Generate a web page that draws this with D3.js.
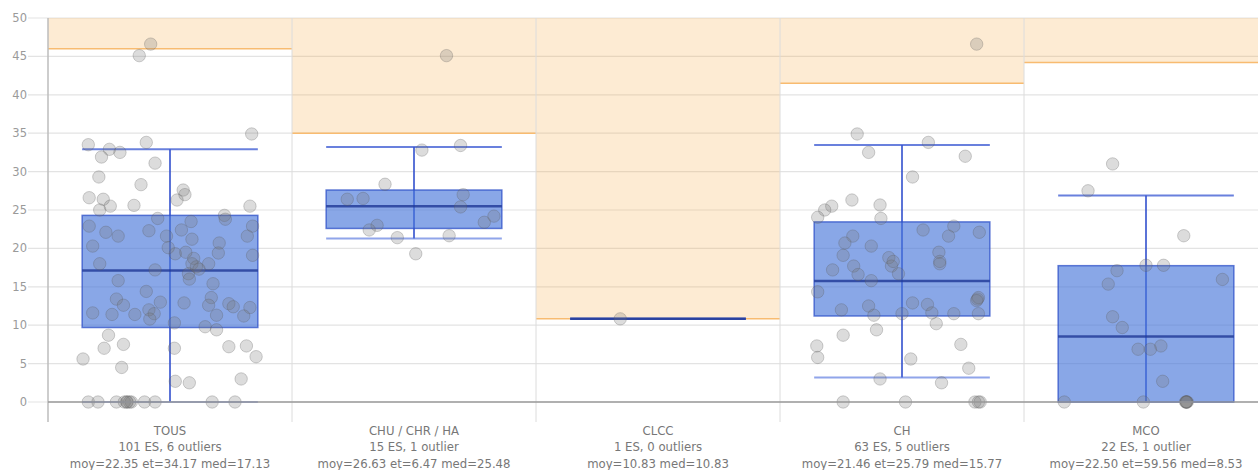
<!DOCTYPE html>
<html>
<head>
<meta charset="utf-8">
<script src="https://cdn.jsdelivr.net/npm/d3@7"></script>
<style>
  html, body { margin: 0; padding: 0; background: #fff; overflow: hidden; }
  svg { display: block; font-family: "DejaVu Sans", Verdana, sans-serif; }
</style>
</head>
<body>
<svg id="chart" width="1258" height="470"></svg>
<script>
// ---------- DATA ----------
const categories = ["TOUS", "CHU / CHR / HA", "CLCC", "CH", "MCO"];
const subtitle1 = ["101 ES, 6 outliers", "15 ES, 1 outlier", "1 ES, 0 outliers", "63 ES, 5 outliers", "22 ES, 1 outlier"];
const subtitle2 = ["moy=22.35 et=34.17 med=17.13", "moy=26.63 et=6.47 med=25.48", "moy=10.83 med=10.83", "moy=21.46 et=25.79 med=15.77", "moy=22.50 et=59.56 med=8.53"];
const q1 = [9.7, 22.6, 10.83, 11.2, 0];
const median = [17.13, 25.48, 10.83, 15.77, 8.53];
const q3 = [24.3, 27.6, 10.83, 23.45, 17.75];
const whiskerLow = [0, 21.3, 10.83, 3.2, 0];
const whiskerHigh = [32.9, 33.2, 10.83, 33.45, 26.9];
const outlierFence = [46.0, 35.0, 10.83, 41.5, 44.2];
const yTicks = [0, 5, 10, 15, 20, 25, 30, 35, 40, 45, 50];

// points: [jitter (-1..1 of half box width), value]
const tousPoints = [
  [-0.35,45.1],[-0.22,46.6],[0.93,34.9],
  [-0.93,33.5],[-0.69,32.9],[-0.78,31.9],[-0.57,32.5],[-0.27,33.8],[-0.17,31.1],[-0.81,29.3],[-0.33,28.3],
  [-0.92,26.6],[-0.76,26.4],[-0.80,25.0],[-0.68,25.5],[-0.41,25.6],[0.15,27.6],[0.17,27.0],[0.08,26.3],
  [0.91,25.5],[0.62,24.3],[0.63,23.8],[-0.14,23.9],[0.24,23.5],[0.94,22.9],[-0.92,22.9],[-0.73,22.1],
  [-0.59,21.6],[-0.24,22.3],[-0.04,21.6],[0.13,22.4],[0.25,21.2],[0.88,21.6],[-0.88,20.3],[0.56,20.7],
  [0.55,19.4],[0.94,19.1],[0.06,19.3],[0.27,18.7],[-0.80,18.0],
  [-0.17,17.2],[0.25,18.0],[0.21,16.7],[0.22,16.0],[0.44,18.0],[-0.59,15.8],[0.49,15.4],[-0.27,14.4],
  [-0.61,13.4],[-0.53,12.6],[-0.11,13.0],[0.16,12.9],[0.47,13.6],[0.44,12.6],[0.67,12.8],[0.72,12.4],
  [0.91,12.3],[-0.88,11.6],[-0.66,11.4],[-0.40,11.4],[-0.24,12.0],[-0.18,11.5],[-0.23,10.8],[0.53,11.3],
  [0.84,11.2],[0.05,10.3],[0.40,9.8],[0.53,9.4],[-0.70,8.7],[-0.53,7.5],[-0.75,7.0],[-0.99,5.6],
  [-0.55,4.5],[0.05,7.0],[0.67,7.2],[0.87,7.3],[0.98,5.9],[0.06,2.7],[0.22,2.5],[0.81,3.0],
  [0.30,17.6],[0.33,17.3],[-0.02,20.1],[0.18,19.5],
  [-0.93,0],[-0.82,0],[-0.61,0],[-0.49,0],[-0.49,0],[-0.44,0],[-0.29,0],[-0.17,0],[0.48,0],[0.74,0],[-0.52,0],[-0.46,0]
];
const chuPoints = [
  [0.37,45.1],[0.09,32.8],[0.53,33.4],[-0.33,28.35],[-0.76,26.4],[-0.58,26.5],[0.56,27.0],[0.53,25.4],
  [0.91,24.2],[0.80,23.4],[-0.42,23.0],[-0.51,22.4],[-0.19,21.4],[0.40,21.65],[0.02,19.3]
];
const clccPoints = [[-0.43,10.83]];
const chPoints = [
  [0.85,46.6],
  [-0.51,34.9],[-0.38,32.5],[0.30,33.8],[0.72,32.0],[0.12,29.3],[-0.57,26.3],[-0.80,25.5],[-0.88,25.0],
  [-0.96,24.05],[-0.25,25.65],[-0.24,23.9],[0.24,22.4],[0.59,22.9],[0.53,21.6],[0.88,22.1],[-0.56,21.6],
  [-0.65,20.7],[-0.35,20.3],[-0.67,19.1],[-0.15,18.8],[0.42,19.5],[0.43,18.3],
  [-0.79,17.2],[-0.55,17.7],[-0.12,17.7],[-0.04,16.7],[0.43,18.0],[-0.35,15.8],[-0.96,14.35],[-0.69,12.0],
  [-0.38,12.5],[-0.32,11.3],[0.0,11.5],[0.12,12.9],[0.29,12.7],[0.34,11.6],[0.59,11.5],[0.86,13.4],
  [0.87,13.6],[0.85,13.2],[0.87,11.5],[-0.29,9.4],[0.39,10.2],[-0.67,8.7],[-0.97,7.3],[-0.96,5.8],
  [0.67,7.5],[0.10,5.6],[0.76,4.4],[-0.25,3.0],[0.45,2.5],
  [-0.67,0],[0.04,0],[0.83,0],[0.89,0],[0.87,0],[-0.10,18.3],[-0.50,16.6]
];
const mcoPoints = [
  [-0.38,31.0],[-0.66,27.5],[0.43,21.65],[-0.33,17.1],[0,17.8],[0.2,17.8],[-0.43,15.35],[0.87,15.96],
  [-0.38,11.1],[-0.27,9.7],[-0.09,6.87],[0.05,6.87],[0.17,7.3],[0.19,2.7],
  [-0.93,0],[-0.03,0],[0.46,0],[0.46,0],[0.47,0],[0.45,0],[0.46,0]
];
const pointsByCategory = [tousPoints, chuPoints, clccPoints, chPoints, mcoPoints];

// ---------- LAYOUT ----------
const W = 1258, H = 470;
const plotLeft = 48, plotRight = 1268, plotTop = 18, plotBottom = 402;
const svg = d3.select("#chart");

const x = d3.scaleBand().domain(categories).range([plotLeft, plotRight]).paddingInner(0).paddingOuter(0);
const y = d3.scaleLinear().domain([0, 50]).range([plotBottom, plotTop]);
const boxW = x.bandwidth() * 0.72;

const rows = categories.map((c, i) => ({
  cat: c, q1: q1[i], med: median[i], q3: q3[i], lo: whiskerLow[i], hi: whiskerHigh[i],
  fence: outlierFence[i], s1: subtitle1[i], s2: subtitle2[i], pts: pointsByCategory[i]
}));

// horizontal gridlines
svg.append("g").selectAll("line").data(yTicks).join("line")
  .attr("x1", 28).attr("x2", W)
  .attr("y1", d => y(d)).attr("y2", d => y(d))
  .attr("stroke", "#e3e3e3").attr("stroke-width", 1.2);

// outlier zones
const zones = svg.append("g");
zones.selectAll("rect").data(rows).join("rect")
  .attr("x", d => x(d.cat)).attr("width", x.bandwidth())
  .attr("y", y(50)).attr("height", d => y(d.fence) - y(50))
  .attr("fill", "rgba(247,170,70,0.24)");
zones.selectAll("line").data(rows).join("line")
  .attr("x1", d => x(d.cat)).attr("x2", d => x(d.cat) + x.bandwidth())
  .attr("y1", d => y(d.fence)).attr("y2", d => y(d.fence))
  .attr("stroke", "#f8bb70").attr("stroke-width", 1.5);

// vertical band separators
const seps = categories.map(c => x(c)).concat([plotRight]);
svg.append("g").selectAll("line").data(seps.slice(1)).join("line")
  .attr("x1", d => d).attr("x2", d => d)
  .attr("y1", plotTop).attr("y2", 422)
  .attr("stroke", "#dcdcdc").attr("stroke-width", 1);

// left axis line
svg.append("line").attr("x1", plotLeft).attr("x2", plotLeft).attr("y1", plotTop).attr("y2", 422)
  .attr("stroke", "#bdbdbd").attr("stroke-width", 1.5);

// boxes
const boxes = svg.append("g").selectAll("g").data(rows).join("g")
  .attr("transform", d => `translate(${x(d.cat) + x.bandwidth() / 2},0)`);

boxes.append("line")
  .attr("x1", 0).attr("x2", 0)
  .attr("y1", d => y(d.hi)).attr("y2", d => y(d.lo))
  .attr("stroke", "rgba(50,80,205,0.8)").attr("stroke-width", 2);
boxes.append("line")
  .attr("x1", -boxW / 2).attr("x2", boxW / 2)
  .attr("y1", d => y(d.hi)).attr("y2", d => y(d.hi))
  .attr("stroke", "rgba(55,85,210,0.75)").attr("stroke-width", 2);
boxes.append("line")
  .attr("x1", -boxW / 2).attr("x2", boxW / 2)
  .attr("y1", d => y(d.lo)).attr("y2", d => y(d.lo))
  .attr("stroke", "rgba(70,105,220,0.6)").attr("stroke-width", 2);
boxes.append("rect")
  .attr("x", -boxW / 2).attr("width", boxW)
  .attr("y", d => y(d.q3)).attr("height", d => y(d.q1) - y(d.q3))
  .attr("fill", "rgba(70,118,218,0.64)")
  .attr("stroke", "rgba(45,80,200,0.75)").attr("stroke-width", 1.5);
boxes.append("line")
  .attr("x1", -boxW / 2).attr("x2", boxW / 2)
  .attr("y1", d => y(d.med)).attr("y2", d => y(d.med))
  .attr("stroke", "rgba(30,55,150,0.8)").attr("stroke-width", 2.5);

// points
boxes.each(function (d) {
  d3.select(this).selectAll("circle").data(d.pts).join("circle")
    .attr("cx", p => p[0] * boxW / 2)
    .attr("cy", p => y(p[1]))
    .attr("r", 6.2)
    .attr("fill", "rgba(120,120,120,0.26)")
    .attr("stroke", "rgba(90,90,90,0.28)")
    .attr("stroke-width", 1);
});

// x axis line
svg.append("line").attr("x1", plotLeft).attr("x2", W).attr("y1", plotBottom).attr("y2", plotBottom)
  .attr("stroke", "#9a9a9a").attr("stroke-width", 1.5);

// y tick labels
svg.append("g").selectAll("text").data(yTicks).join("text")
  .attr("x", 27).attr("y", d => y(d))
  .attr("dy", "0.35em")
  .attr("text-anchor", "end")
  .attr("font-size", 11.5)
  .attr("fill", "#9a9a9a")
  .text(d => d);

// category labels
const labels = svg.append("g").selectAll("g").data(rows).join("g")
  .attr("transform", d => `translate(${x(d.cat) + x.bandwidth() / 2},0)`);
[["cat", 434.5], ["s1", 451], ["s2", 467.5]].forEach(([k, yy]) => {
  labels.append("text")
    .attr("x", 0).attr("y", yy)
    .attr("text-anchor", "middle")
    .attr("font-size", 11.7)
    .attr("fill", "#777")
    .text(d => d[k]);
});
</script>
</body>
</html>
